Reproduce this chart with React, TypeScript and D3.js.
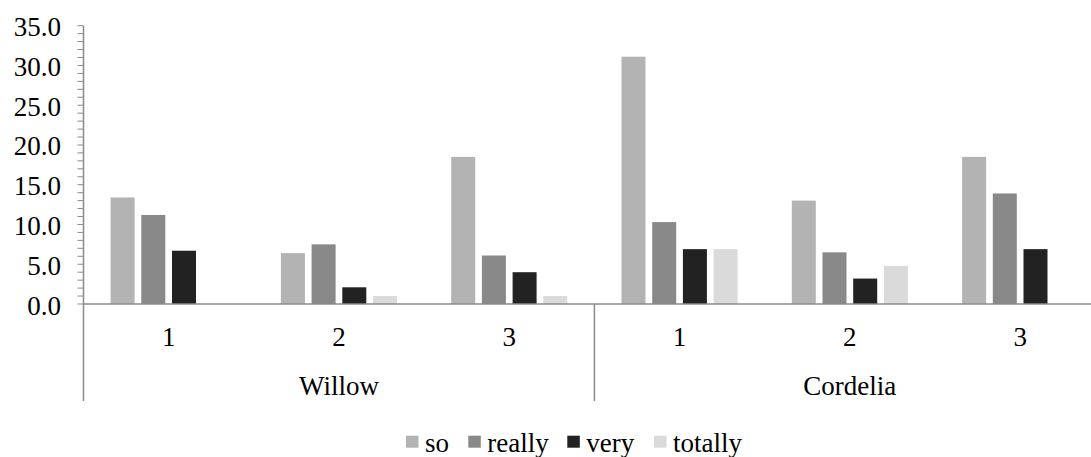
import React, { useEffect, useState } from "react";
import * as d3 from "d3";

const groups = ["Willow", "Cordelia"];
const categories = ["Willow-1", "Willow-2", "Willow-3", "Cordelia-1", "Cordelia-2", "Cordelia-3"];
const categoryLabels = ["1", "2", "3", "1", "2", "3"];
const seriesNames = ["so", "really", "very", "totally"];
const seriesColors = ["#b3b3b3", "#898989", "#222222", "#dadada"];
const soValues = [13.4, 6.4, 18.5, 31.1, 13.0, 18.5];
const reallyValues = [11.2, 7.5, 6.1, 10.3, 6.5, 13.9];
const veryValues = [6.7, 2.1, 4.0, 6.9, 3.2, 6.9];
const totallyValues = [0, 1.0, 1.0, 6.9, 4.8, 0];
const yTicks = [0, 5, 10, 15, 20, 25, 30, 35];

const W = 1091;
const H = 457;
const FAMILY = '"Liberation Serif"';

if (typeof document !== "undefined" && (document as any).fonts) {
  (document as any).fonts.load(`27px ${FAMILY}`, "0123456789.WillowCordeliasoreallyverytotally").catch(() => {});
}

export default function App() {
  const [tick, setTick] = useState(0);
  useEffect(() => {
    const f = (document as any).fonts;
    if (f && f.ready) {
      f.ready.then(() => setTick((t) => t + 1));
    }
  }, []);

  const textStyle: React.CSSProperties = { fontFamily: FAMILY, fontSize: "27px" };
  const x0 = 83.5;
  const catW = 170.3;
  const x = d3.scaleBand<string>().domain(categories).range([x0, x0 + catW * categories.length]).padding(0);
  const xs = d3.scaleBand<string>().domain(seriesNames).range([27.1, 143.2]).paddingInner(0.218).paddingOuter(0);
  const y = d3.scaleLinear().domain([0, 35]).range([304, 25.7]);
  const allSeries = [soValues, reallyValues, veryValues, totallyValues];
  const axisColor = "#8a8a8a";
  const minor = d3.range(0, 36, 1);
  const legendX = [406, 468.3, 567.3, 654];

  return (
    <svg
      key={tick}
      width={W}
      height={H}
      style={{ position: "absolute", left: 0, top: 0, fontFamily: FAMILY }}
    >
      {seriesNames.map((s, si) => (
        <g key={s}>
          {allSeries[si].map((v, i) =>
            v > 0 ? (
              <rect
                key={i}
                x={(x(categories[i]) as number) + (xs(s) as number)}
                y={y(v)}
                width={xs.bandwidth()}
                height={y(0) - y(v)}
                fill={seriesColors[si]}
              />
            ) : null
          )}
        </g>
      ))}

      {minor.map((d) => (
        <line key={d} x1={x0 - 6} x2={x0} y1={y(d)} y2={y(d)} stroke={axisColor} strokeWidth={1} />
      ))}
      {yTicks.map((d) => (
        <text key={d} x={61} y={y(d) + 10.5} textAnchor="end" style={textStyle}>
          {d3.format(".1f")(d)}
        </text>
      ))}

      <line x1={x0} x2={x0} y1={y(35)} y2={401} stroke={axisColor} strokeWidth={1.5} />
      <line x1={x0} x2={x0 + catW * categories.length} y1={y(0)} y2={y(0)} stroke={axisColor} strokeWidth={1.5} />
      {[3, 6].map((k) => (
        <line key={k} x1={x0 + catW * k} x2={x0 + catW * k} y1={y(0)} y2={401} stroke={axisColor} strokeWidth={1.5} />
      ))}

      {categories.map((c, i) => (
        <text key={c} x={(x(c) as number) + x.bandwidth() / 2} y={346} textAnchor="middle" style={textStyle}>
          {categoryLabels[i]}
        </text>
      ))}
      {groups.map((g, i) => (
        <text key={g} x={x0 + catW * 3 * i + (catW * 3) / 2} y={395} textAnchor="middle" style={textStyle}>
          {g}
        </text>
      ))}

      {seriesNames.map((s, si) => (
        <g key={s}>
          <rect x={legendX[si]} y={435.7} width={12.5} height={12} fill={seriesColors[si]} />
          <text x={legendX[si] + 19} y={451.7} style={textStyle}>
            {s}
          </text>
        </g>
      ))}
    </svg>
  );
}
